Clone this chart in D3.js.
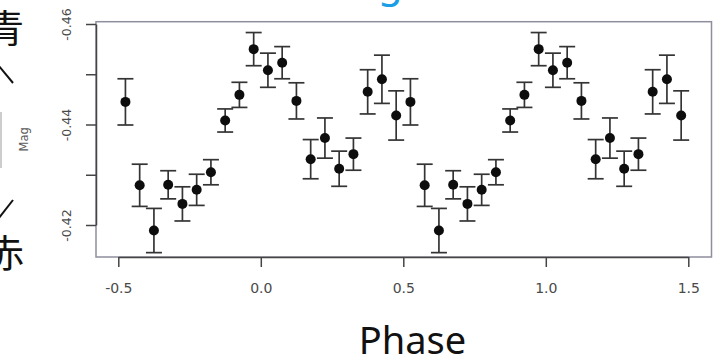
<!DOCTYPE html>
<html>
<head>
<meta charset="utf-8">
<script src="https://cdn.jsdelivr.net/npm/d3@7"></script>
<style>
    body { margin: 0; background: #fff; }
    svg { display: block; }
</style>
</head>
<body>
<div id="chart"></div>
<script>
// Folded light curve: one row per phase bin
const phase = [-0.475, -0.425, -0.375, -0.325, -0.275, -0.225, -0.175, -0.125, -0.075, -0.025,
               0.025, 0.075, 0.125, 0.175, 0.225, 0.275, 0.325, 0.375, 0.425, 0.475];
const mag = [-0.4445, -0.4279, -0.4189, -0.4280, -0.4242, -0.4270, -0.4305, -0.4408, -0.4459, -0.4550,
             -0.4508, -0.4523, -0.4447, -0.4331, -0.4373, -0.4312, -0.4341, -0.4465, -0.4490, -0.4418];
const magErr = [0.0046, 0.0042, 0.0044, 0.0028, 0.0034, 0.0031, 0.0025, 0.0023, 0.0025, 0.0033,
                0.0034, 0.0032, 0.0036, 0.0039, 0.0040, 0.0035, 0.0032, 0.0044, 0.0048, 0.0049];
const cycles = [0, 1];   // the curve is drawn twice, shifted by one phase

const xTicks = [-0.5, 0.0, 0.5, 1.0, 1.5];
const yTicks = [-0.46, -0.45, -0.44, -0.43, -0.42];
const yLabelled = [-0.46, -0.44, -0.42];

const width = 715, height = 361;
const box = { left: 96, right: 711.5, top: 21.7, bottom: 257 };

const svg = d3.select("#chart").append("svg")
    .attr("width", width)
    .attr("height", height);

const x = d3.scaleLinear().domain([-0.5, 1.5]).range([118.3, 688.3]);
const y = d3.scaleLinear().domain([-0.46, -0.42]).range([24, 225]);

const points = cycles.flatMap(c => phase.map((p, i) => ({ phase: p + c, mag: mag[i], err: magErr[i] })));

// Plot frame (light) drawn first, axes on top
svg.append("rect")
    .attr("x", box.left).attr("y", box.top)
    .attr("width", box.right - box.left).attr("height", box.bottom - box.top)
    .style("fill", "none")
    .style("stroke", "#8e8e9e")
    .style("stroke-width", 1.5);

// Y axis (R style: labels parallel to the axis)
const yAxis = svg.append("g")
    .attr("transform", `translate(${box.left},0)`)
    .call(d3.axisLeft(y).tickValues(yTicks).tickSize(10).tickSizeOuter(0)
        .tickFormat(d => yLabelled.some(v => Math.abs(v - d) < 1e-9) ? d.toFixed(2) : ""));
yAxis.select(".domain").style("stroke", "#444").style("stroke-width", 1.5);
yAxis.selectAll(".tick line").style("stroke", "#444").style("stroke-width", 1.5);
yAxis.selectAll(".tick text")
    .attr("x", 0).attr("dy", 0)
    .attr("transform", "translate(-25,0) rotate(-90)")
    .attr("text-anchor", "middle")
    .style("font-family", "'DejaVu Sans', sans-serif")
    .style("font-size", "12.5px")
    .style("fill", "#4a4a4a");

// X axis
const xAxis = svg.append("g")
    .attr("transform", `translate(0,${box.bottom})`)
    .call(d3.axisBottom(x).tickValues(xTicks).tickSize(10).tickSizeOuter(0).tickPadding(16)
        .tickFormat(d => d.toFixed(1)));
xAxis.select(".domain").style("stroke", "#444").style("stroke-width", 1.5);
xAxis.selectAll(".tick line").style("stroke", "#444").style("stroke-width", 1.5);
xAxis.selectAll(".tick text")
    .style("font-family", "'DejaVu Sans', sans-serif")
    .style("font-size", "14px")
    .style("fill", "#4a4a4a");

// Axis titles
svg.append("text")
    .attr("transform", `translate(28,${(box.top + box.bottom) / 2}) rotate(-90)`)
    .attr("text-anchor", "middle")
    .style("font-family", "'DejaVu Sans', sans-serif")
    .style("font-size", "11.5px")
    .style("fill", "#5a5a5a")
    .text("Mag");

svg.append("text")
    .attr("x", 412.5).attr("y", 354)
    .attr("text-anchor", "middle")
    .style("font-family", "'Noto Sans', sans-serif")
    .style("font-size", "38px")
    .style("fill", "#111")
    .text("Phase");

// Error bars
const bars = svg.append("g")
    .selectAll(".bar")
    .data(points)
    .enter().append("g")
    .attr("class", "bar")
    .style("stroke", "#343434")
    .style("stroke-width", 1.7);

bars.append("line")
    .attr("x1", d => x(d.phase)).attr("x2", d => x(d.phase))
    .attr("y1", d => y(d.mag - d.err)).attr("y2", d => y(d.mag + d.err));
bars.append("line")
    .attr("x1", d => x(d.phase) - 8).attr("x2", d => x(d.phase) + 8)
    .attr("y1", d => y(d.mag - d.err)).attr("y2", d => y(d.mag - d.err));
bars.append("line")
    .attr("x1", d => x(d.phase) - 8).attr("x2", d => x(d.phase) + 8)
    .attr("y1", d => y(d.mag + d.err)).attr("y2", d => y(d.mag + d.err));

// Points
svg.append("g")
    .selectAll("circle")
    .data(points)
    .enter().append("circle")
    .attr("cx", d => x(d.phase))
    .attr("cy", d => y(d.mag))
    .attr("r", 5)
    .style("fill", "#0d0d0d");

// Slide fragments around the chart: cut-off title and the colour arrow on the left
svg.append("text")
    .attr("x", 378).attr("y", -3)
    .style("font-family", "'Noto Sans', sans-serif")
    .style("font-size", "40px")
    .style("fill", "#1a9ee6")
    .text("g");

const cjk = svg.append("g")
    .style("font-family", "'Noto Sans CJK JP', sans-serif")
    .style("font-size", "38px")
    .style("fill", "#111")
    .attr("text-anchor", "end");
cjk.append("text").attr("x", 24).attr("y", 42).text("青");
cjk.append("text").attr("x", 24).attr("y", 267).text("赤");

const arrow = svg.append("g").style("stroke", "#111").style("stroke-width", 2).style("fill", "none");
arrow.append("line").attr("x1", -1).attr("y1", 66).attr("x2", 13).attr("y2", 83);
arrow.append("line").attr("x1", 13).attr("y1", 200).attr("x2", -1).attr("y2", 218);
svg.append("line")
    .attr("x1", 1).attr("y1", 112).attr("x2", 1).attr("y2", 168)
    .style("stroke", "#bbb").style("stroke-width", 1.5);
</script>
</body>
</html>
